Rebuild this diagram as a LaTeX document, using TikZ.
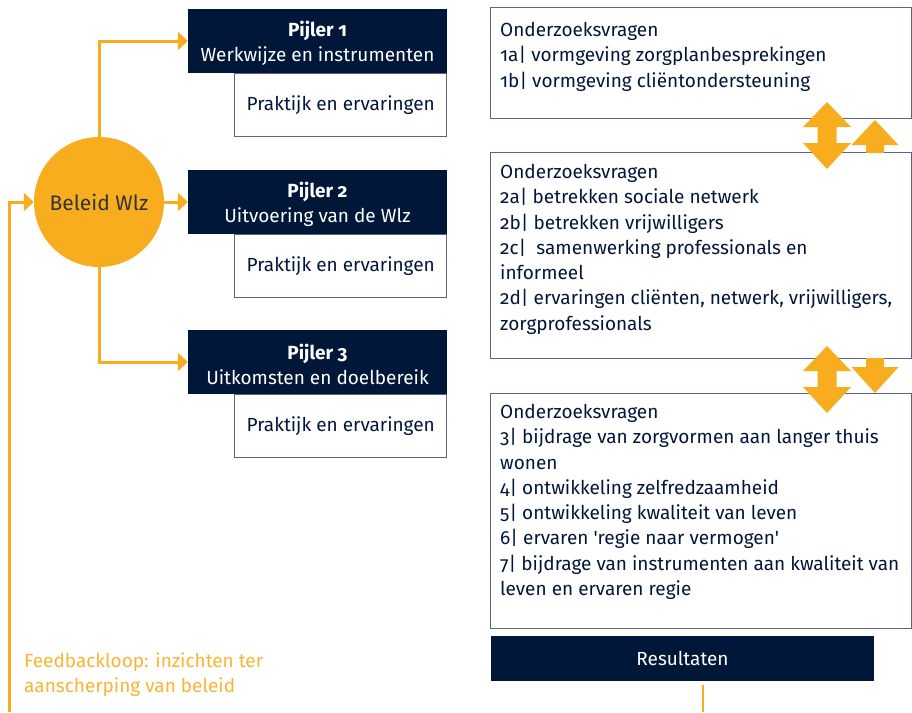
\documentclass[tikz,border=0pt]{standalone}
\usepackage{fontspec}
\setmainfont{Fira Sans}[Numbers=OldStyle]
\usetikzlibrary{arrows.meta}
\definecolor{wlzblauw}{HTML}{01173A}
\definecolor{wlzoranje}{HTML}{F8AD1F}
\definecolor{wlzgrijs}{HTML}{5B6579}
\definecolor{wlzlicht}{HTML}{F9B434}
\newcommand{\pijlerkop}[1]{\rule{0pt}{20pt}\textbf{Pijler #1}}
\begin{document}
\begin{tikzpicture}[x=1pt,y=-1pt,font=\fontsize{19}{25.3}\selectfont,
  pijler/.style={fill=wlzblauw,text=white,minimum width=259pt,minimum height=64pt,align=center,inner sep=0pt},
  praktijk/.style={draw=wlzgrijs,line width=1pt,text=wlzblauw,minimum width=212pt,minimum height=63pt,inner sep=0pt,anchor=north east},
  vraagbox/.style={draw=wlzgrijs,line width=1.2pt,anchor=north west,inner sep=0pt,minimum width=421pt},
  vraagtekst/.style={anchor=north west,align=left,text=wlzblauw,inner sep=0pt},
  lijn/.style={wlzoranje,line width=3pt},
  pijl/.style={lijn,-{Triangle[length=10pt,width=18pt]}}]
\useasboundingbox (0,0) rectangle (912,712);
% beleid en pijlers
\node[circle,fill=wlzoranje,minimum size=130pt,inner sep=0pt,text=black!80,font=\fontsize{21}{25}\selectfont] (beleid) at (99,202) {Beleid Wlz};
\node[pijler] (p1) at (317.5,41) {\pijlerkop{1}\\Werkwijze en instrumenten};
\node[praktijk] (pr1) at (p1.south east) {Praktijk en ervaringen};
\node[pijler] (p2) at (317.5,202) {\pijlerkop{2}\\Uitvoering van de Wlz};
\node[praktijk] (pr2) at (p2.south east) {Praktijk en ervaringen};
\node[pijler] (p3) at (317.5,362) {\pijlerkop{3}\\Uitkomsten en doelbereik};
\node[praktijk] (pr3) at (p3.south east) {Praktijk en ervaringen};
\draw[pijl] (beleid.north) |- (p1.west);
\draw[pijl] (beleid.east) -- (p2.west);
\draw[pijl] (beleid.south) |- (p3.west);
% feedbackloop
\coordinate (fbstart) at (9,712);
\draw[pijl] (fbstart) |- (beleid.west);
\node[anchor=north west,align=left,text=wlzlicht,inner sep=0pt] (feedback) at (24,652) {Feedbackloop: inzichten ter\\aanscherping van beleid};
% onderzoeksvragen
\node[vraagbox,minimum height=111pt] (box1) at (490,7) {};
\node[vraagtekst] (vragen1) at (500,22) {Onderzoeksvragen\\1a| vormgeving zorgplanbesprekingen\\1b| vormgeving cliëntondersteuning};
\node[vraagbox,minimum height=206pt] (box2) at (490,152) {};
\node[vraagtekst] (vragen2) at (500,164) {Onderzoeksvragen\\2a| betrekken sociale netwerk\\2b| betrekken vrijwilligers\\2c|~ samenwerking professionals en\\informeel\\2d| ervaringen cliënten, netwerk, vrijwilligers,\\zorgprofessionals};
\node[vraagbox,minimum height=235pt] (box3) at (490,393) {};
\node[vraagtekst] (vragen3) at (500,404) {Onderzoeksvragen\\3| bijdrage van zorgvormen aan langer thuis\\wonen\\4| ontwikkeling zelfredzaamheid\\5| ontwikkeling kwaliteit van leven\\6| ervaren \textquotesingle regie naar vermogen\textquotesingle\\7| bijdrage van instrumenten aan kwaliteit van\\leven en ervaren regie};
% pijlen tussen de vragen
\fill[wlzoranje] (827,102) -- (851,127) -- (836.5,127) -- (836.5,143) -- (851,143) -- (827,169) -- (803,143) -- (817.5,143) -- (817.5,127) -- (803,127) -- cycle;
\fill[wlzoranje] (875,120) -- (898.5,145) -- (884,145) -- (884,153) -- (866,153) -- (866,145) -- (851.5,145) -- cycle;
\fill[wlzoranje] (827,346) -- (851,371) -- (836.5,371) -- (836.5,387) -- (851,387) -- (827,413) -- (803,387) -- (817.5,387) -- (817.5,371) -- (803,371) -- cycle;
\fill[wlzoranje] (875,393) -- (898.5,367) -- (884,367) -- (884,358) -- (866,358) -- (866,367) -- (851.5,367) -- cycle;
% resultaten
\node[fill=wlzblauw,text=white,minimum width=383pt,minimum height=45pt,inner sep=0pt] (resultaten) at (682.5,658.5) {Resultaten};
\coordinate (uitloop) at (703,712);
\draw[lijn,line width=2.5pt] (resultaten.south -| uitloop) ++(0,4) -- (uitloop);
\end{tikzpicture}
\end{document}
